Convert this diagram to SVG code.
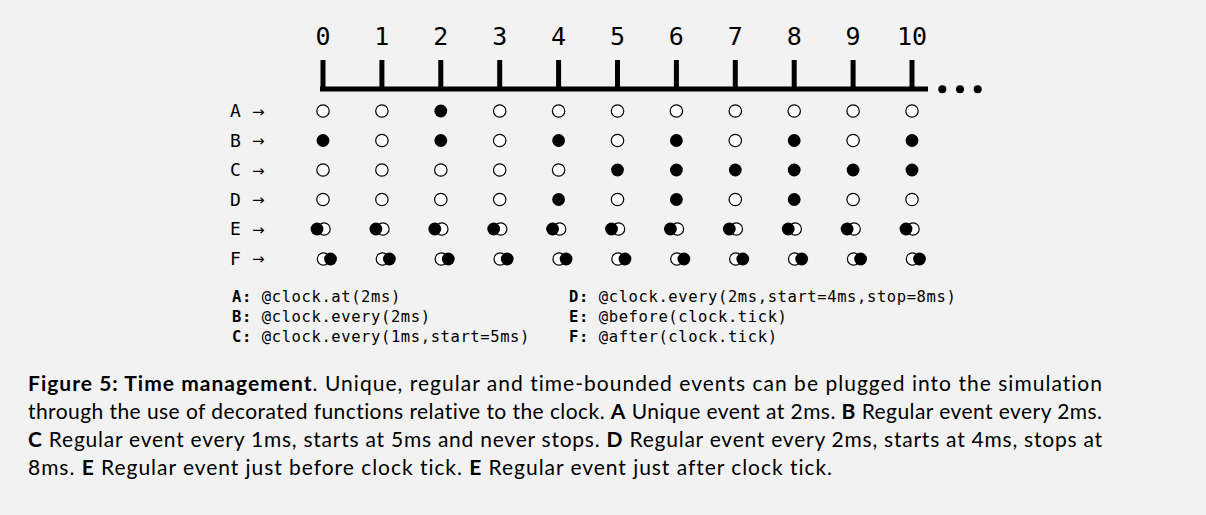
<svg xmlns="http://www.w3.org/2000/svg" xmlns:xlink="http://www.w3.org/1999/xlink" width="1206" height="515" viewBox="0 0 1206 515">
<style>
.num{font-family:"DejaVu Sans Mono",monospace;font-size:25px;text-anchor:middle;fill:#000}
.rl{font-family:"DejaVu Sans Mono",monospace;font-size:18px;fill:#000}
.ar{font-family:"DejaVu Sans",sans-serif;font-size:15px;fill:#000}
.lg{font-family:"DejaVu Sans Mono",monospace;font-size:15.5px;letter-spacing:0.6px;fill:#000}
.b{font-weight:bold}
.cap{font-family:Lato,"Liberation Sans",sans-serif;font-size:21px;font-variant-ligatures:none;fill:#000}
.tick{stroke:#000;stroke-width:5;fill:none}
</style>
<defs>
<circle id="o" r="6.2" fill="#fff" stroke="#000" stroke-width="1.2"/>
<circle id="f" r="6.4" fill="#000"/>
</defs>
<rect width="1206" height="515" fill="#f2f2f2"/>
<g id="axis">
<g class="num">
<text x="323" y="45">0</text><text x="381.9" y="45">1</text><text x="440.8" y="45">2</text><text x="499.7" y="45">3</text><text x="558.6" y="45">4</text><text x="617.5" y="45">5</text><text x="676.4" y="45">6</text><text x="735.3" y="45">7</text><text x="794.2" y="45">8</text><text x="853.1" y="45">9</text><text x="912" y="45">10</text>
</g>
<path class="tick" d="M320 89H928M323 60V89M381.9 60V89M440.8 60V89M499.7 60V89M558.6 60V89M617.5 60V89M676.4 60V89M735.3 60V89M794.2 60V89M853.1 60V89M912 60V89"/>
<circle cx="942.3" cy="89.3" r="4"/><circle cx="960" cy="89.3" r="4"/><circle cx="977.7" cy="89.3" r="4"/>
</g>
<g id="rowA">
<text class="rl" x="230" y="117">A</text><text class="ar" x="252" y="116.5">→</text>
<use xlink:href="#o" x="323" y="111"/><use xlink:href="#o" x="381.9" y="111"/><use xlink:href="#f" x="440.8" y="111"/><use xlink:href="#o" x="499.7" y="111"/><use xlink:href="#o" x="558.6" y="111"/><use xlink:href="#o" x="617.5" y="111"/><use xlink:href="#o" x="676.4" y="111"/><use xlink:href="#o" x="735.3" y="111"/><use xlink:href="#o" x="794.2" y="111"/><use xlink:href="#o" x="853.1" y="111"/><use xlink:href="#o" x="912" y="111"/>
</g>
<g id="rowB">
<text class="rl" x="230" y="146.5">B</text><text class="ar" x="252" y="146">→</text>
<use xlink:href="#f" x="323" y="140.5"/><use xlink:href="#o" x="381.9" y="140.5"/><use xlink:href="#f" x="440.8" y="140.5"/><use xlink:href="#o" x="499.7" y="140.5"/><use xlink:href="#f" x="558.6" y="140.5"/><use xlink:href="#o" x="617.5" y="140.5"/><use xlink:href="#f" x="676.4" y="140.5"/><use xlink:href="#o" x="735.3" y="140.5"/><use xlink:href="#f" x="794.2" y="140.5"/><use xlink:href="#o" x="853.1" y="140.5"/><use xlink:href="#f" x="912" y="140.5"/>
</g>
<g id="rowC">
<text class="rl" x="230" y="176">C</text><text class="ar" x="252" y="175.5">→</text>
<use xlink:href="#o" x="323" y="170"/><use xlink:href="#o" x="381.9" y="170"/><use xlink:href="#o" x="440.8" y="170"/><use xlink:href="#o" x="499.7" y="170"/><use xlink:href="#o" x="558.6" y="170"/><use xlink:href="#f" x="617.5" y="170"/><use xlink:href="#f" x="676.4" y="170"/><use xlink:href="#f" x="735.3" y="170"/><use xlink:href="#f" x="794.2" y="170"/><use xlink:href="#f" x="853.1" y="170"/><use xlink:href="#f" x="912" y="170"/>
</g>
<g id="rowD">
<text class="rl" x="230" y="205.5">D</text><text class="ar" x="252" y="205">→</text>
<use xlink:href="#o" x="323" y="199.5"/><use xlink:href="#o" x="381.9" y="199.5"/><use xlink:href="#o" x="440.8" y="199.5"/><use xlink:href="#o" x="499.7" y="199.5"/><use xlink:href="#f" x="558.6" y="199.5"/><use xlink:href="#o" x="617.5" y="199.5"/><use xlink:href="#f" x="676.4" y="199.5"/><use xlink:href="#o" x="735.3" y="199.5"/><use xlink:href="#f" x="794.2" y="199.5"/><use xlink:href="#o" x="853.1" y="199.5"/><use xlink:href="#o" x="912" y="199.5"/>
</g>
<g id="rowE">
<text class="rl" x="230" y="235">E</text><text class="ar" x="252" y="234.5">→</text>
<g transform="translate(0 229)">
<use xlink:href="#o" x="324"/><use xlink:href="#f" x="317"/>
<use xlink:href="#o" x="382.9"/><use xlink:href="#f" x="375.9"/>
<use xlink:href="#o" x="441.8"/><use xlink:href="#f" x="434.8"/>
<use xlink:href="#o" x="500.7"/><use xlink:href="#f" x="493.7"/>
<use xlink:href="#o" x="559.6"/><use xlink:href="#f" x="552.6"/>
<use xlink:href="#o" x="618.5"/><use xlink:href="#f" x="611.5"/>
<use xlink:href="#o" x="677.4"/><use xlink:href="#f" x="670.4"/>
<use xlink:href="#o" x="736.3"/><use xlink:href="#f" x="729.3"/>
<use xlink:href="#o" x="795.2"/><use xlink:href="#f" x="788.2"/>
<use xlink:href="#o" x="854.1"/><use xlink:href="#f" x="847.1"/>
<use xlink:href="#o" x="913"/><use xlink:href="#f" x="906"/>
</g>
</g>
<g id="rowF">
<text class="rl" x="230" y="264.5">F</text><text class="ar" x="252" y="264">→</text>
<g transform="translate(0 259)">
<use xlink:href="#o" x="323.5"/><use xlink:href="#f" x="330.5"/>
<use xlink:href="#o" x="382.4"/><use xlink:href="#f" x="389.4"/>
<use xlink:href="#o" x="441.3"/><use xlink:href="#f" x="448.3"/>
<use xlink:href="#o" x="500.2"/><use xlink:href="#f" x="507.2"/>
<use xlink:href="#o" x="559.1"/><use xlink:href="#f" x="566.1"/>
<use xlink:href="#o" x="618"/><use xlink:href="#f" x="625"/>
<use xlink:href="#o" x="676.9"/><use xlink:href="#f" x="683.9"/>
<use xlink:href="#o" x="735.8"/><use xlink:href="#f" x="742.8"/>
<use xlink:href="#o" x="794.7"/><use xlink:href="#f" x="801.7"/>
<use xlink:href="#o" x="853.6"/><use xlink:href="#f" x="860.6"/>
<use xlink:href="#o" x="912.5"/><use xlink:href="#f" x="919.5"/>
</g>
</g>
<g id="legend">
<text class="lg" x="232" y="302"><tspan class="b">A:</tspan> @clock.at(2ms)</text>
<text class="lg" x="232" y="322"><tspan class="b">B:</tspan> @clock.every(2ms)</text>
<text class="lg" x="232" y="342"><tspan class="b">C:</tspan> @clock.every(1ms,start=5ms)</text>
<text class="lg" x="569" y="302"><tspan class="b">D:</tspan> @clock.every(2ms,start=4ms,stop=8ms)</text>
<text class="lg" x="569" y="322"><tspan class="b">E:</tspan> @before(clock.tick)</text>
<text class="lg" x="569" y="342"><tspan class="b">F:</tspan> @after(clock.tick)</text>
</g>
<g id="caption" class="cap">
<text x="28" y="391" textLength="1074" lengthAdjust="spacing"><tspan class="b">Figure 5: Time management</tspan>. Unique, regular and time-bounded events can be plugged into the simulation</text>
<text x="28" y="419" textLength="1074" lengthAdjust="spacing">through the use of decorated functions relative to the clock. <tspan class="b">A</tspan> Unique event at 2ms. <tspan class="b">B</tspan> Regular event every 2ms.</text>
<text x="28" y="447" textLength="1074" lengthAdjust="spacing"><tspan class="b">C</tspan> Regular event every 1ms, starts at 5ms and never stops. <tspan class="b">D</tspan> Regular event every 2ms, starts at 4ms, stops at</text>
<text x="28" y="475" textLength="804" lengthAdjust="spacing">8ms. <tspan class="b">E</tspan> Regular event just before clock tick. <tspan class="b">E</tspan> Regular event just after clock tick.</text>
</g>
</svg>
